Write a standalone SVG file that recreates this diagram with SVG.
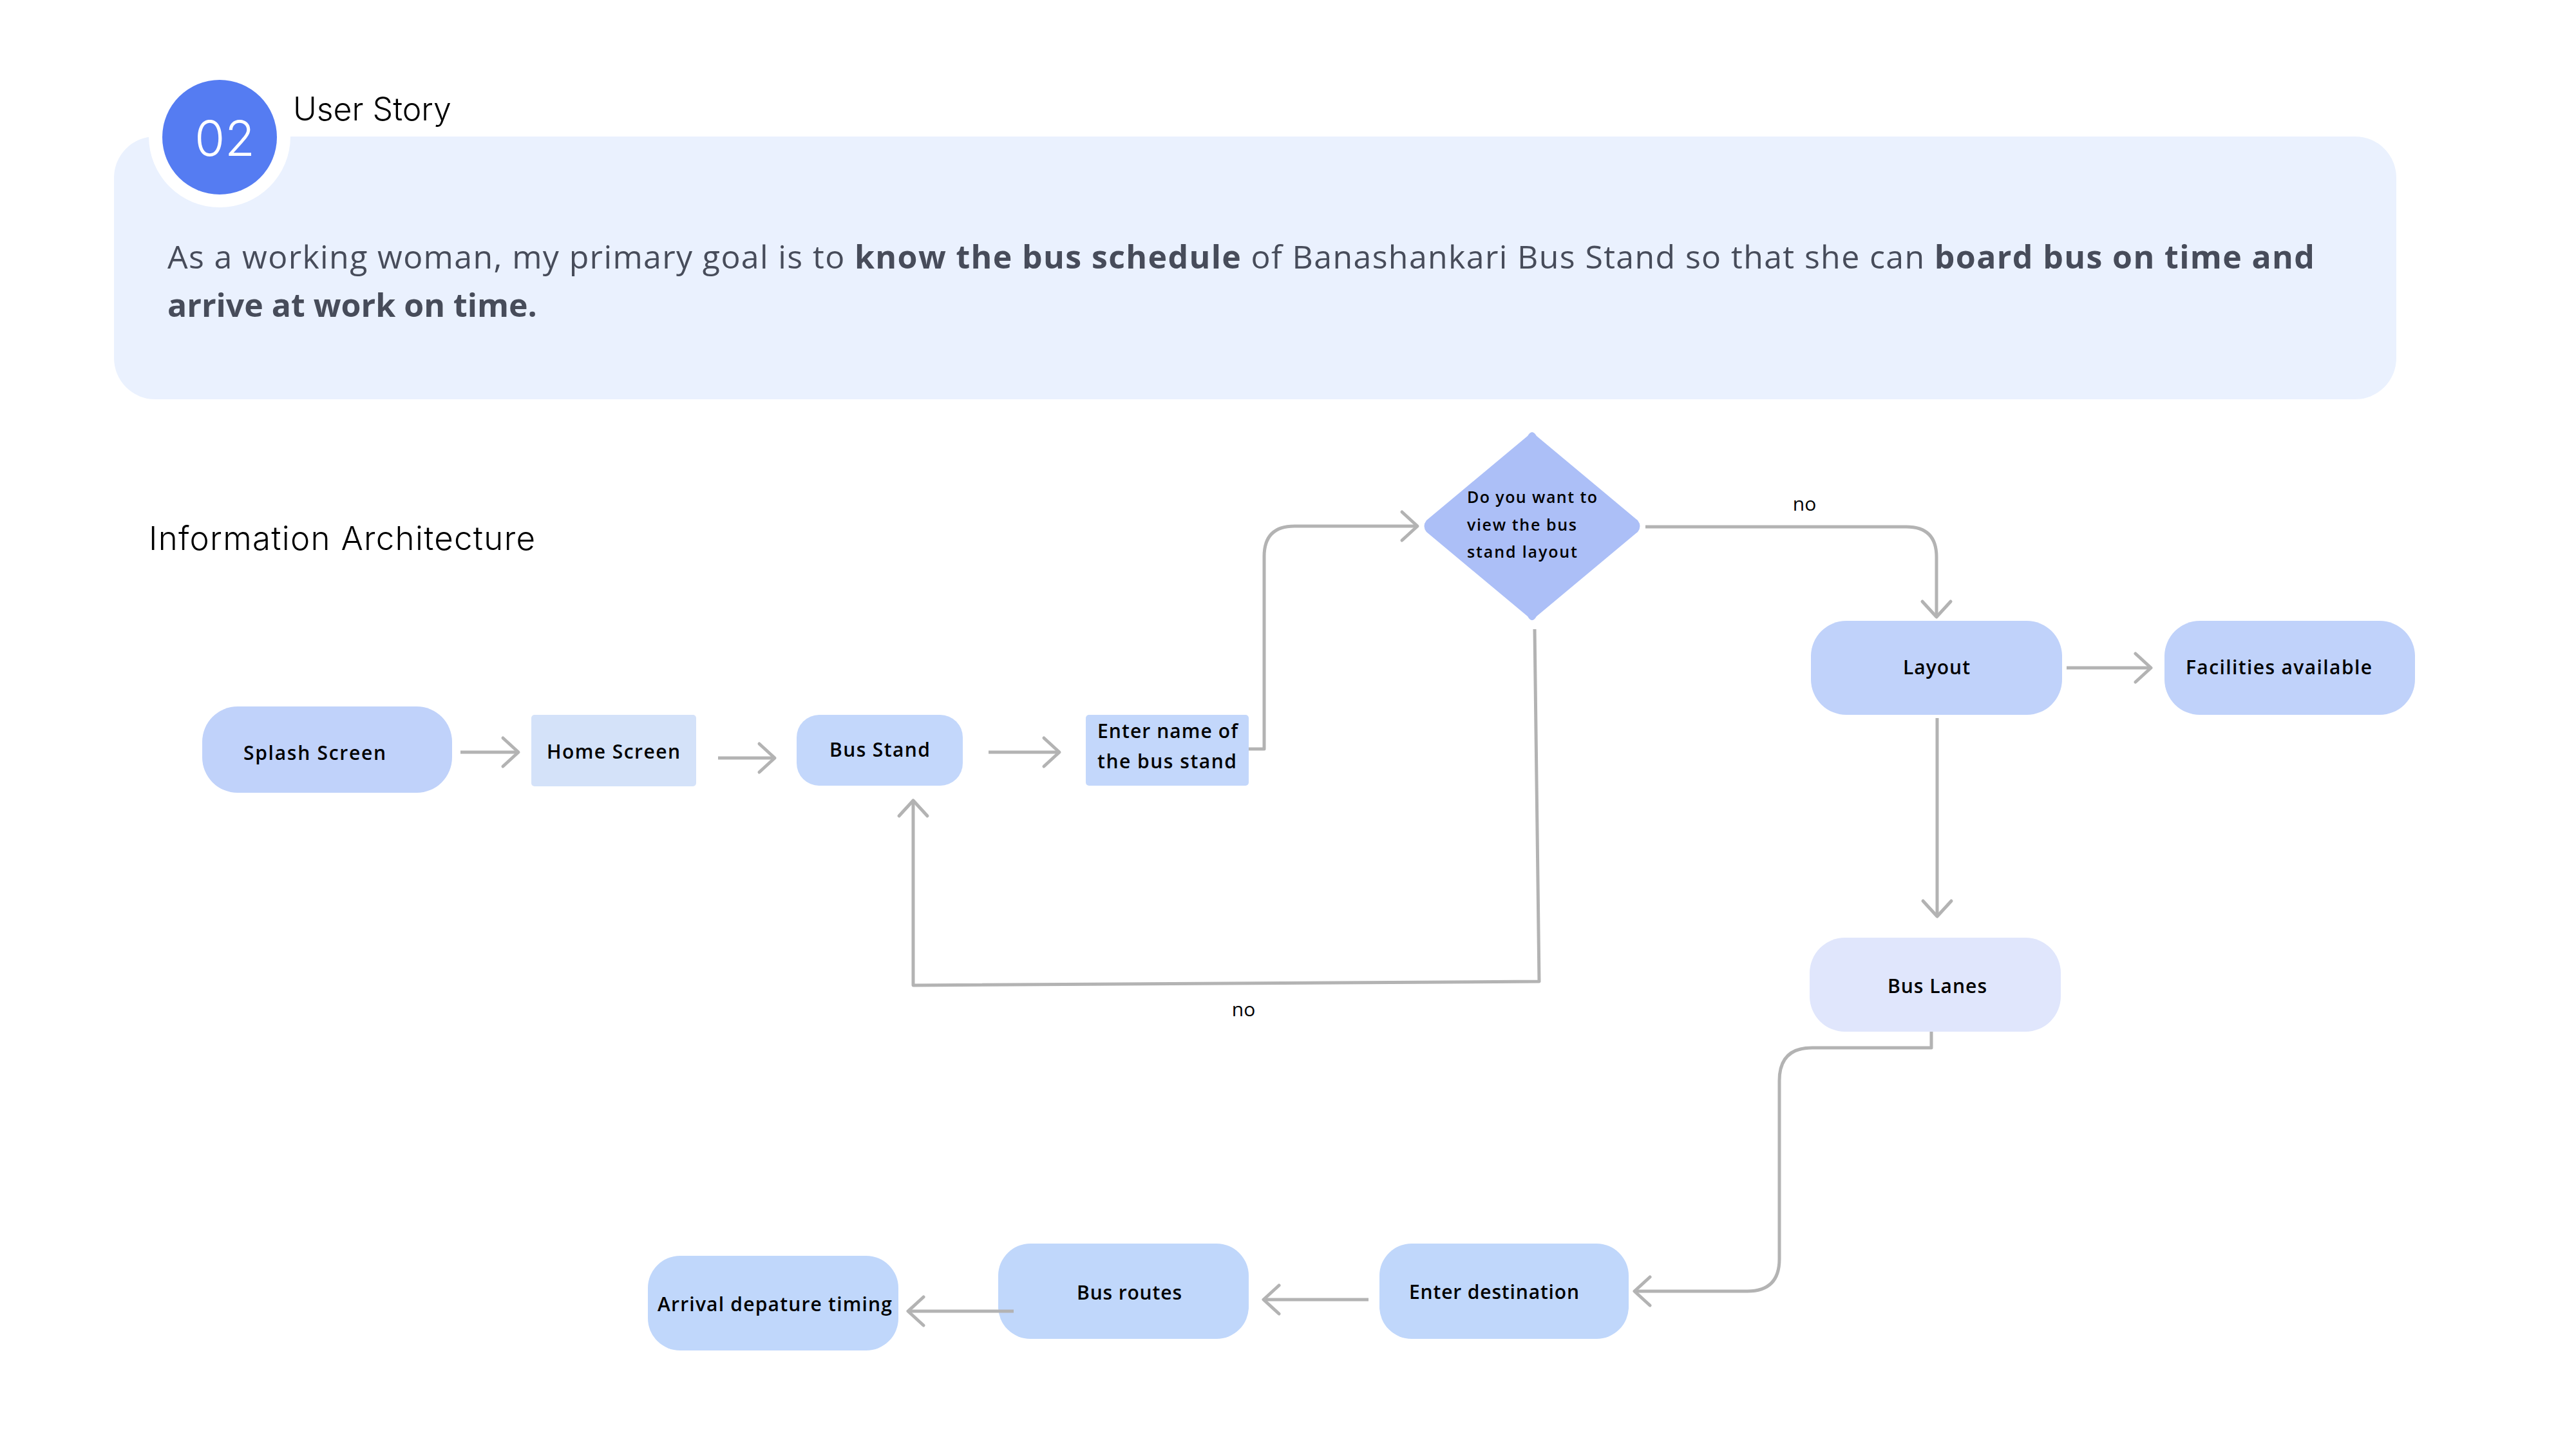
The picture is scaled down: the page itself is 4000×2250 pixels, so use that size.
<svg xmlns="http://www.w3.org/2000/svg" width="4000" height="2250" viewBox="0 0 4000 2250">
  <defs>
    <style>
      .ui { font-family: "Open Sans", "Liberation Sans", sans-serif; font-weight: 600; fill: #000; }
      .node { font-size: 30px; }
      .dia { font-size: 25px; }
      .lbl { font-family: "Open Sans", "Liberation Sans", sans-serif; font-size: 30px; fill: #000; }
      .conn { fill: none; stroke: #b3b3b3; stroke-width: 5; stroke-linejoin: round; }
      .story { font-family: "Open Sans", "Liberation Sans", sans-serif; font-size: 50px; fill: #474c5a; }
      .story .b { font-weight: 700; }
    </style>
    <marker id="chev" markerUnits="userSpaceOnUse" viewBox="-30 -30 36 60" markerWidth="36" markerHeight="60" refX="0" refY="0" orient="auto" overflow="visible">
      <path d="M-24,-22 L0,0 L-24,22" fill="none" stroke="#b3b3b3" stroke-width="5" stroke-linecap="round" stroke-linejoin="round"/>
    </marker>
  </defs>

  <rect width="4000" height="2250" fill="#ffffff"/>

  <!-- story header -->
  <g id="story">
    <rect x="177" y="212" width="3544" height="408" rx="64" fill="#eaf1fe"/>
    <circle cx="341" cy="212" r="110" fill="#ffffff"/>
    <circle cx="341" cy="213" r="89" fill="#557cf2"/>
    <text x="349" y="242" text-anchor="middle" font-family="Inter, 'Open Sans', sans-serif" font-weight="300" font-size="76" fill="#ffffff">02</text>
    <text x="455" y="187" font-family="Inter, 'Open Sans', sans-serif" font-weight="300" font-size="50" fill="#000">User Story</text>
    <text class="story" x="260" y="417" textLength="3334">As a working woman, my primary goal is to <tspan class="b">know the bus schedule</tspan> of Banashankari Bus Stand so that she can <tspan class="b">board bus on time and</tspan></text>
    <text class="story" x="260" y="492"><tspan class="b">arrive at work on time.</tspan></text>
  </g>

  <text x="231" y="854" font-family="Inter, 'Open Sans', sans-serif" font-weight="300" font-size="51" fill="#000" textLength="600">Information Architecture</text>

  <!-- connectors -->
  <g id="connectors" class="conn">
    <path d="M715,1168 H805" marker-end="url(#chev)"/>
    <path d="M1115,1177 H1203" marker-end="url(#chev)"/>
    <path d="M1535,1168 H1645" marker-end="url(#chev)"/>
    <path d="M1939,1163 H1963 V864 Q1963,817 2010,817 H2201" marker-end="url(#chev)"/>
    <path d="M2555,818 H2960 Q3007,818 3007,865 V958" marker-end="url(#chev)"/>
    <path d="M2383,977 L2390,1524 L1418,1530 V1243" marker-end="url(#chev)"/>
    <path d="M3209,1037 H3340" marker-end="url(#chev)"/>
    <path d="M3008,1115 V1423" marker-end="url(#chev)"/>
    <path d="M2999,1602 V1627 H2814 Q2763,1627 2763,1678 V1955 Q2763,2005 2713,2005 H2538" marker-end="url(#chev)"/>
    <path d="M2125,2018 H1962" marker-end="url(#chev)"/>
  </g>
  <text class="lbl" x="2802" y="793" text-anchor="middle">no</text>
  <text class="lbl" x="1931" y="1578" text-anchor="middle">no</text>

  <!-- nodes -->
  <g id="splash">
    <rect x="314" y="1097" width="388" height="134" rx="55" fill="#c0d2fa"/>
    <text class="ui node" x="378" y="1180" textLength="221">Splash Screen</text>
  </g>
  <g id="home">
    <rect x="825" y="1110" width="256" height="111" rx="5" fill="#d4e2f9"/>
    <text class="ui node" x="849" y="1178" textLength="207">Home Screen</text>
  </g>
  <g id="busstand">
    <rect x="1237" y="1110" width="258" height="110" rx="35" fill="#c3d7fb"/>
    <text class="ui node" x="1288" y="1175" textLength="156">Bus Stand</text>
  </g>
  <g id="entername">
    <rect x="1686" y="1110" width="253" height="110" rx="5" fill="#c3d7fb"/>
    <text class="ui node" x="1704" y="1146" textLength="218">Enter name of</text>
    <text class="ui node" x="1704" y="1193" textLength="216">the bus stand</text>
  </g>
  <g id="decision">
    <path d="M2372,677 Q2379,665 2386,677 L2543,808 Q2550,817 2543,826 L2386,957 Q2379,969 2372,957 L2215,826 Q2208,817 2215,808 Z" fill="#acbff7"/>
    <text class="ui dia" x="2278" y="781" textLength="202">Do you want to</text>
    <text class="ui dia" x="2278" y="824" textLength="170">view the bus</text>
    <text class="ui dia" x="2278" y="866" textLength="171">stand layout</text>
  </g>
  <g id="layout">
    <rect x="2812" y="964" width="390" height="146" rx="55" fill="#c0d2fa"/>
    <text class="ui node" x="2955" y="1047" textLength="104">Layout</text>
  </g>
  <g id="facilities">
    <rect x="3361" y="964" width="389" height="146" rx="55" fill="#c0d2fa"/>
    <text class="ui node" x="3394" y="1047" textLength="289">Facilities available</text>
  </g>
  <g id="buslanes">
    <rect x="2810" y="1456" width="390" height="146" rx="55" fill="#e0e6fc"/>
    <text class="ui node" x="2931" y="1542" textLength="154">Bus Lanes</text>
  </g>
  <g id="enterdest">
    <rect x="2142" y="1931" width="387" height="148" rx="50" fill="#c0d7fb"/>
    <text class="ui node" x="2188" y="2017" textLength="264">Enter destination</text>
  </g>
  <g id="busroutes">
    <rect x="1550" y="1931" width="389" height="148" rx="50" fill="#c0d7fb"/>
    <text class="ui node" x="1672" y="2018" textLength="163">Bus routes</text>
  </g>
  <g id="arrival">
    <rect x="1006" y="1950" width="389" height="147" rx="50" fill="#c0d7fb"/>
    <text class="ui node" x="1021" y="2036" textLength="364">Arrival depature timing</text>
  </g>

  <!-- this link sits over the Bus routes box edge -->
  <path class="conn" d="M1574,2036 H1410" marker-end="url(#chev)"/>
</svg>
